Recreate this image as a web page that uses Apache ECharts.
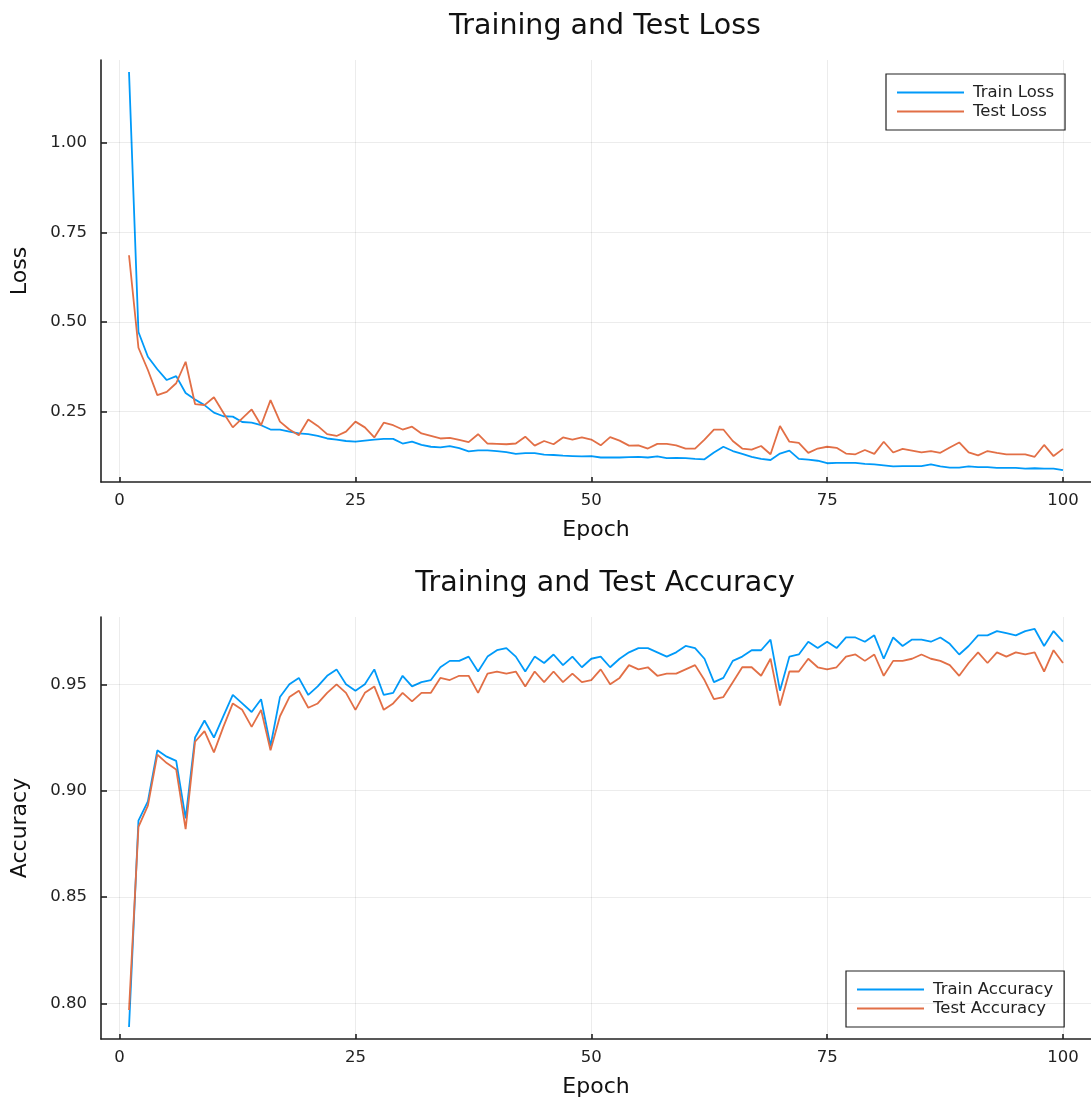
<!DOCTYPE html>
<html>
<head>
<meta charset="utf-8">
<script src="https://cdn.jsdelivr.net/npm/echarts@6/dist/echarts.min.js"></script>
<style>
  html, body { margin: 0; padding: 0; background: #fff; }
  #chart { width: 1091px; height: 1100px; }
</style>
</head>
<body>
<div id="chart"></div>
<script>
// Per-epoch training history
const epochs = Array.from({ length: 100 }, (_, i) => i + 1);

const trainLoss = [
  1.197, 0.472, 0.403, 0.368, 0.338, 0.349, 0.302, 0.284, 0.268, 0.247,
  0.237, 0.236, 0.221, 0.219, 0.212, 0.200, 0.200, 0.194, 0.189, 0.187,
  0.182, 0.175, 0.172, 0.168, 0.166, 0.169, 0.172, 0.174, 0.174, 0.161,
  0.166, 0.157, 0.152, 0.150, 0.154, 0.148, 0.139, 0.142, 0.142, 0.140,
  0.137, 0.132, 0.134, 0.134, 0.130, 0.129, 0.127, 0.126, 0.125, 0.126,
  0.122, 0.122, 0.122, 0.123, 0.124, 0.122, 0.125, 0.120, 0.121, 0.120,
  0.118, 0.117, 0.136, 0.152, 0.140, 0.132, 0.124, 0.118, 0.115, 0.133,
  0.141, 0.118, 0.116, 0.113, 0.106, 0.107, 0.107, 0.107, 0.104, 0.103,
  0.100, 0.097, 0.098, 0.098, 0.098, 0.103, 0.097, 0.094, 0.094, 0.097,
  0.095, 0.095, 0.093, 0.093, 0.093, 0.091, 0.092, 0.091, 0.091, 0.087
];

const testLoss = [
  0.686, 0.428, 0.366, 0.296, 0.305, 0.329, 0.389, 0.271, 0.268, 0.290,
  0.247, 0.206, 0.231, 0.256, 0.212, 0.282, 0.222, 0.200, 0.184, 0.228,
  0.210, 0.187, 0.182, 0.194, 0.222, 0.206, 0.178, 0.219, 0.212, 0.200,
  0.208, 0.189, 0.182, 0.175, 0.177, 0.171, 0.165, 0.187, 0.161, 0.160,
  0.159, 0.161, 0.180, 0.155, 0.168, 0.159, 0.178, 0.172, 0.178, 0.172,
  0.156, 0.179, 0.169, 0.155, 0.156, 0.147, 0.160, 0.160, 0.156, 0.147,
  0.147, 0.172, 0.200, 0.200, 0.168, 0.147, 0.144, 0.154, 0.131, 0.210,
  0.166, 0.163, 0.135, 0.147, 0.152, 0.149, 0.133, 0.131, 0.143, 0.132,
  0.166, 0.136, 0.146, 0.141, 0.136, 0.140, 0.135, 0.150, 0.164, 0.136,
  0.128, 0.140, 0.135, 0.131, 0.131, 0.131, 0.124, 0.157, 0.126, 0.146
];

const trainAcc = [
  0.789, 0.886, 0.895, 0.919, 0.916, 0.914, 0.887, 0.925, 0.933, 0.925,
  0.935, 0.945, 0.941, 0.937, 0.943, 0.921, 0.944, 0.950, 0.953, 0.945,
  0.949, 0.954, 0.957, 0.950, 0.947, 0.950, 0.957, 0.945, 0.946, 0.954,
  0.949, 0.951, 0.952, 0.958, 0.961, 0.961, 0.963, 0.956, 0.963, 0.966,
  0.967, 0.963, 0.956, 0.963, 0.960, 0.964, 0.959, 0.963, 0.958, 0.962,
  0.963, 0.958, 0.962, 0.965, 0.967, 0.967, 0.965, 0.963, 0.965, 0.968,
  0.967, 0.962, 0.951, 0.953, 0.961, 0.963, 0.966, 0.966, 0.971, 0.947,
  0.963, 0.964, 0.970, 0.967, 0.970, 0.967, 0.972, 0.972, 0.970, 0.973,
  0.962, 0.972, 0.968, 0.971, 0.971, 0.970, 0.972, 0.969, 0.964, 0.968,
  0.973, 0.973, 0.975, 0.974, 0.973, 0.975, 0.976, 0.968, 0.975, 0.970
];

const testAcc = [
  0.797, 0.883, 0.893, 0.917, 0.913, 0.910, 0.882, 0.923, 0.928, 0.918,
  0.930, 0.941, 0.938, 0.930, 0.938, 0.919, 0.935, 0.944, 0.947, 0.939,
  0.941, 0.946, 0.950, 0.946, 0.938, 0.946, 0.949, 0.938, 0.941, 0.946,
  0.942, 0.946, 0.946, 0.953, 0.952, 0.954, 0.954, 0.946, 0.955, 0.956,
  0.955, 0.956, 0.949, 0.956, 0.951, 0.956, 0.951, 0.955, 0.951, 0.952,
  0.957, 0.950, 0.953, 0.959, 0.957, 0.958, 0.954, 0.955, 0.955, 0.957,
  0.959, 0.952, 0.943, 0.944, 0.951, 0.958, 0.958, 0.954, 0.962, 0.940,
  0.956, 0.956, 0.962, 0.958, 0.957, 0.958, 0.963, 0.964, 0.961, 0.964,
  0.954, 0.961, 0.961, 0.962, 0.964, 0.962, 0.961, 0.959, 0.954, 0.960,
  0.965, 0.960, 0.965, 0.963, 0.965, 0.964, 0.965, 0.956, 0.966, 0.960
];

const epochTicks = [0, 25, 50, 75, 100];
const lossTicks = [0.25, 0.50, 0.75, 1.00];
const accTicks = [0.80, 0.85, 0.90, 0.95];

const BLUE = '#009af9';
const ORANGE = '#e26f46';
const FONT = 'DejaVu Sans';

// Axis limits padded by 3% of the data span on each side
function padded(arrays) {
  const all = [].concat(...arrays);
  const lo = Math.min(...all), hi = Math.max(...all);
  const pad = 0.03 * (hi - lo);
  return [lo - pad, hi + pad];
}
const [xMin, xMax] = padded([epochs]);
const [lossMin, lossMax] = padded([trainLoss, testLoss]);
const [accMin, accMax] = padded([trainAcc, testAcc]);

const pairs = (ys) => epochs.map((e, i) => [e, ys[i]]);

const axisLineStyle = { color: '#222', width: 1.6 };

function xAxisFor(gridIndex) {
  return {
    type: 'value', gridIndex, min: xMin, max: xMax,
    name: 'Epoch', nameLocation: 'middle', nameGap: 37,
    nameTextStyle: { fontFamily: FONT, fontSize: 22, color: '#111' },
    axisLine: { show: true, onZero: false, lineStyle: axisLineStyle },
    axisTick: { show: true, inside: true, length: 5, customValues: epochTicks, lineStyle: axisLineStyle },
    axisLabel: { customValues: epochTicks, fontFamily: FONT, fontSize: 16.5, color: '#222', margin: 10 },
    splitLine: { show: false }
  };
}

function yAxisFor(gridIndex, name, lo, hi, ticks) {
  return {
    type: 'value', gridIndex, min: lo, max: hi,
    name, nameLocation: 'middle', nameGap: 70,
    nameTextStyle: { fontFamily: FONT, fontSize: 22, color: '#111' },
    axisLine: { show: true, onZero: false, lineStyle: axisLineStyle },
    axisTick: { show: true, inside: true, length: 6, customValues: ticks, lineStyle: axisLineStyle },
    axisLabel: {
      customValues: ticks, fontFamily: FONT, fontSize: 16.5, color: '#222', margin: 14,
      formatter: (v) => v.toFixed(2)
    },
    splitLine: { show: false }
  };
}

// Light reference lines at each tick, drawn on the data scale
function gridLines(xs, ys) {
  return {
    silent: true, symbol: 'none', label: { show: false },
    lineStyle: { color: 'rgba(0,0,0,0.075)', width: 1, type: 'solid' },
    data: xs.map(v => ({ xAxis: v })).concat(ys.map(v => ({ yAxis: v })))
  };
}

function lineSeries(name, data, color, xi, yi, extra) {
  const s = {
    name, type: 'line', data, xAxisIndex: xi, yAxisIndex: yi,
    showSymbol: false, symbol: 'none', clip: true,
    lineStyle: { color, width: 1.8 }, itemStyle: { color },
    emphasis: { disabled: true }
  };
  if (extra) s.markLine = extra;
  return s;
}

function legendFor(names, left, top) {
  return {
    data: names, orient: 'vertical', left, top,
    icon: 'rect', itemWidth: 67, itemHeight: 2, itemGap: 2,
    padding: [10, 11, 10, 11],
    borderColor: '#222', borderWidth: 1.2, borderRadius: 0,
    backgroundColor: '#fff',
    textStyle: { fontFamily: FONT, fontSize: 16.5, color: '#222', lineHeight: 16.5, padding: [0, 0, 0, 4] },
    selectedMode: false
  };
}

const chart = echarts.init(document.getElementById('chart'), null, { renderer: 'canvas' });
chart.setOption({
  animation: false,
  backgroundColor: '#fff',
  title: [
    { text: 'Training and Test Loss', left: 600, top: 7, textAlign: 'center',
      textStyle: { fontFamily: FONT, fontSize: 28.5, fontWeight: 'normal', color: '#111' } },
    { text: 'Training and Test Accuracy', left: 600, top: 564, textAlign: 'center',
      textStyle: { fontFamily: FONT, fontSize: 28.5, fontWeight: 'normal', color: '#111' } }
  ],
  grid: [
    { left: 101, top: 60, width: 998, height: 422 },
    { left: 101, top: 617, width: 998, height: 422 }
  ],
  xAxis: [xAxisFor(0), xAxisFor(1)],
  yAxis: [
    yAxisFor(0, 'Loss', lossMin, lossMax, lossTicks),
    yAxisFor(1, 'Accuracy', accMin, accMax, accTicks)
  ],
  legend: [
    legendFor(['Train Loss', 'Test Loss'], 886, 74),
    legendFor(['Train Accuracy', 'Test Accuracy'], 846, 971)
  ],
  series: [
    lineSeries('Train Loss', pairs(trainLoss), BLUE, 0, 0, gridLines(epochTicks, lossTicks)),
    lineSeries('Test Loss', pairs(testLoss), ORANGE, 0, 0),
    lineSeries('Train Accuracy', pairs(trainAcc), BLUE, 1, 1, gridLines(epochTicks, accTicks)),
    lineSeries('Test Accuracy', pairs(testAcc), ORANGE, 1, 1)
  ]
});
</script>
</body>
</html>
